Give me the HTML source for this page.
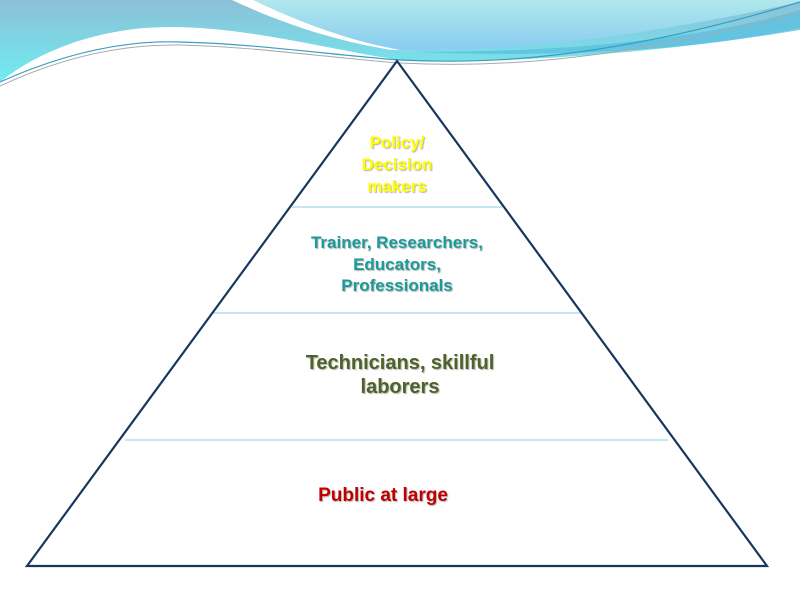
<!DOCTYPE html>
<html><head><style>
body{margin:0;width:800px;height:600px;background:#fff;overflow:hidden;position:relative;font-family:"Liberation Sans",sans-serif;}
.t{position:absolute;text-align:center;font-weight:bold;text-shadow:1px 1px 1px rgba(0,0,0,0.3);}
</style></head><body>
<svg width="800" height="600" style="position:absolute;left:0;top:0">
<defs>
<linearGradient id="g1" x1="0" y1="0" x2="0" y2="1"><stop offset="0" stop-color="#8cc0d8"/><stop offset="1" stop-color="#70ecf0"/></linearGradient>
<linearGradient id="g2" x1="0" y1="0" x2="0" y2="1"><stop offset="0" stop-color="#b0e8ec"/><stop offset="1" stop-color="#88ccf0"/></linearGradient>
</defs>
<path d="M0,0 L800,0 L800,30 C650,55 480,65 400,60 C330,50 250,27 170,27 C100,27 40,50 0,82 Z" fill="url(#g1)"/>
<path d="M232,0 C285,25 340,42 392,50 C520,52 650,35 800,0 Z" fill="#fff"/>
<path d="M253,0 C305,25 355,42 400,50 C520,52 650,35 800,2 L800,0 Z" fill="url(#g2)"/>
<path d="M420,52 C560,52 700,40 800,10 L800,28 C700,50 560,58 420,52 Z" fill="#5cbfe0" opacity="0.8"/>
<path d="M0,82 C60,55 120,40 180,42 C260,44 330,55 400,60 C480,64 600,62 800,2" fill="none" stroke="#3a9ec0" stroke-width="1.2"/>
<path d="M0,86 C60,58 120,44 180,45 C260,47 330,58 400,63 C480,67 600,66 800,12" fill="none" stroke="#aaa" stroke-width="1"/>
<line x1="292" y1="207" x2="502" y2="207" stroke="#9ed8ee" stroke-width="1.2"/>
<line x1="213" y1="313" x2="582" y2="313" stroke="#9ed8ee" stroke-width="1.2"/>
<line x1="125" y1="440" x2="668" y2="440" stroke="#9ed8ee" stroke-width="1.2"/>
<polygon points="397,61 767,566 27,566" fill="none" stroke="#17375e" stroke-width="2.2"/>
</svg>
<div class="t" style="left:297px;top:132px;width:200px;font-size:17px;line-height:22px;color:#ffff00">Policy/<br>Decision<br>makers</div>
<div class="t" style="left:287px;top:232px;width:220px;font-size:17px;line-height:21.5px;color:#1b9a9a">Trainer, Researchers,<br>Educators,<br>Professionals</div>
<div class="t" style="left:275px;top:351px;width:250px;font-size:20px;line-height:24px;color:#4f6228">Technicians, skillful<br>laborers</div>
<div class="t" style="left:263px;top:484px;width:240px;font-size:19px;line-height:23px;color:#c00000">Public at large</div>
</body></html>
